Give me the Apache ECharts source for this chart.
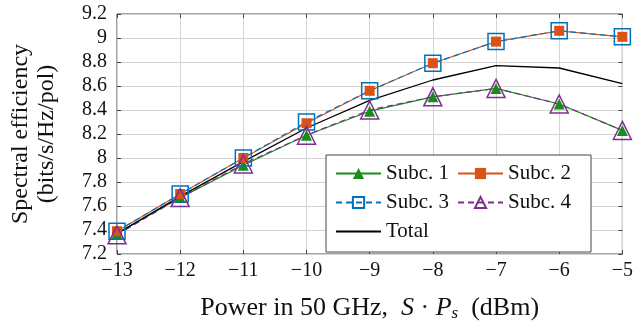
<!DOCTYPE html>
<html>
<head>
<meta charset="utf-8">
<script src="https://cdn.jsdelivr.net/npm/echarts@6/dist/echarts.min.js"></script>
<style>
  html, body { margin: 0; padding: 0; background: #fff; }
  #chart { width: 636px; height: 327px; }
</style>
</head>
<body>
<div id="chart"></div>
<script>
// transmit power in 50 GHz (dBm)
const powers = [-13, -12, -11, -10, -9, -8, -7, -6, -5]
const subc1 = [7.37, 7.67, 7.94, 8.19, 8.39, 8.51, 8.58, 8.45, 8.23]
const subc2 = [7.39, 7.70, 8.00, 8.29, 8.56, 8.79, 8.97, 9.06, 9.01]
const subc3 = [7.39, 7.70, 8.00, 8.30, 8.56, 8.79, 8.97, 9.06, 9.01]
const subc4 = [7.36, 7.67, 7.95, 8.19, 8.40, 8.51, 8.58, 8.45, 8.23]
const total = [7.37, 7.68, 7.97, 8.25, 8.48, 8.65, 8.77, 8.75, 8.62]
const names = ['Subc. 1', 'Subc. 2', 'Subc. 3', 'Subc. 4', 'Total']

const FONT = '"Liberation Serif", "DejaVu Serif", serif'
const GREEN = '#1a8c1a'
const ORANGE = '#d95319'
const BLUE = '#0072bd'
const PURPLE = '#7e2f8e'
const GRID = '#d4d4d4'
const FRAME = '#444'

const pairs = ys => powers.map((x, i) => [x, ys[i]])
const minus = v => (v < 0 ? '\u2212' + Math.abs(v) : String(v))

const chart = echarts.init(document.getElementById('chart'), null, { renderer: 'canvas' })

const tickStyle = { show: true, inside: true, length: 4, lineStyle: { color: FRAME } }

chart.setOption({
  animation: false,
  textStyle: { fontFamily: FONT },
  grid: { left: 113, right: 13, top: 14, bottom: 72, show: true, borderColor: FRAME, borderWidth: 1 },
  xAxis: [{
    type: 'value', min: -13, max: -5, interval: 1,
    axisLine: { show: false }, axisTick: tickStyle,
    splitLine: { lineStyle: { color: GRID } },
    axisLabel: { color: '#111', fontSize: 20, fontFamily: FONT, margin: 7, formatter: minus },
    name: '{n|Power in 50 GHz,  }{i|S}{n| \u00b7 }{i|P}{s|s}{n|  (dBm)}',
    nameLocation: 'middle', nameGap: 40,
    nameTextStyle: {
      rich: {
        n: { fontSize: 26, fontFamily: FONT, color: '#111' },
        i: { fontSize: 26, fontFamily: FONT, fontStyle: 'italic', color: '#111' },
        s: { fontSize: 17, fontFamily: FONT, fontStyle: 'italic', color: '#111', padding: [11, 0, 0, 0] }
      }
    }
  }, {
    type: 'value', position: 'top', min: -13, max: -5, interval: 1,
    axisLine: { show: false }, axisTick: tickStyle, axisLabel: { show: false }, splitLine: { show: false }
  }],
  yAxis: [{
    type: 'value', min: 7.2, max: 9.2, interval: 0.2,
    axisLine: { show: false }, axisTick: tickStyle,
    splitLine: { lineStyle: { color: GRID } },
    axisLabel: { color: '#111', fontSize: 20, fontFamily: FONT, margin: 10, formatter: v => String(+v.toFixed(1)) },
    name: 'Spectral efficiency\n(bits/s/Hz/pol)',
    nameLocation: 'middle', nameGap: 57, nameRotate: 90,
    nameTextStyle: { fontSize: 24, fontFamily: FONT, color: '#111', lineHeight: 26 }
  }, {
    type: 'value', position: 'right', min: 7.2, max: 9.2, interval: 0.2,
    axisLine: { show: false }, axisTick: tickStyle, axisLabel: { show: false }, splitLine: { show: false }
  }],
  legend: {
    data: names.map(n => (n === 'Total' ? { name: n, itemStyle: { opacity: 0 } } : n)),
    left: 326, top: 155, width: 250,
    padding: [8, 20, 10, 9],
    itemWidth: 45, itemHeight: 14, itemGap: 8,
    backgroundColor: '#fff', borderColor: FRAME, borderWidth: 1, borderRadius: 0,
    textStyle: { fontSize: 21, fontFamily: FONT, color: '#111', lineHeight: 21 }
  },
  series: [
    {
      name: 'Subc. 1', type: 'line', data: pairs(subc1),
      symbol: 'triangle', symbolSize: 11,
      lineStyle: { color: GREEN, width: 1.2 },
      itemStyle: { color: GREEN }
    },
    {
      name: 'Subc. 2', type: 'line', data: pairs(subc2),
      symbol: 'rect', symbolSize: 10,
      lineStyle: { color: ORANGE, width: 1.2 },
      itemStyle: { color: ORANGE }
    },
    {
      name: 'Subc. 3', type: 'line', data: pairs(subc3),
      symbol: 'rect', symbolSize: 16,
      lineStyle: { color: BLUE, width: 1.2, type: [6, 4] },
      itemStyle: { color: 'rgba(0,0,0,0)', borderColor: BLUE, borderWidth: 1.5 }
    },
    {
      name: 'Subc. 4', type: 'line', data: pairs(subc4),
      symbol: 'triangle', symbolSize: 18,
      lineStyle: { color: PURPLE, width: 1.2, type: [6, 4] },
      itemStyle: { color: 'rgba(0,0,0,0)', borderColor: PURPLE, borderWidth: 1.5 }
    },
    {
      name: 'Total', type: 'line', data: pairs(total),
      symbol: 'none',
      lineStyle: { color: '#000', width: 1.3 },
      itemStyle: { color: '#000' }
    }
  ]
})
</script>
</body>
</html>
